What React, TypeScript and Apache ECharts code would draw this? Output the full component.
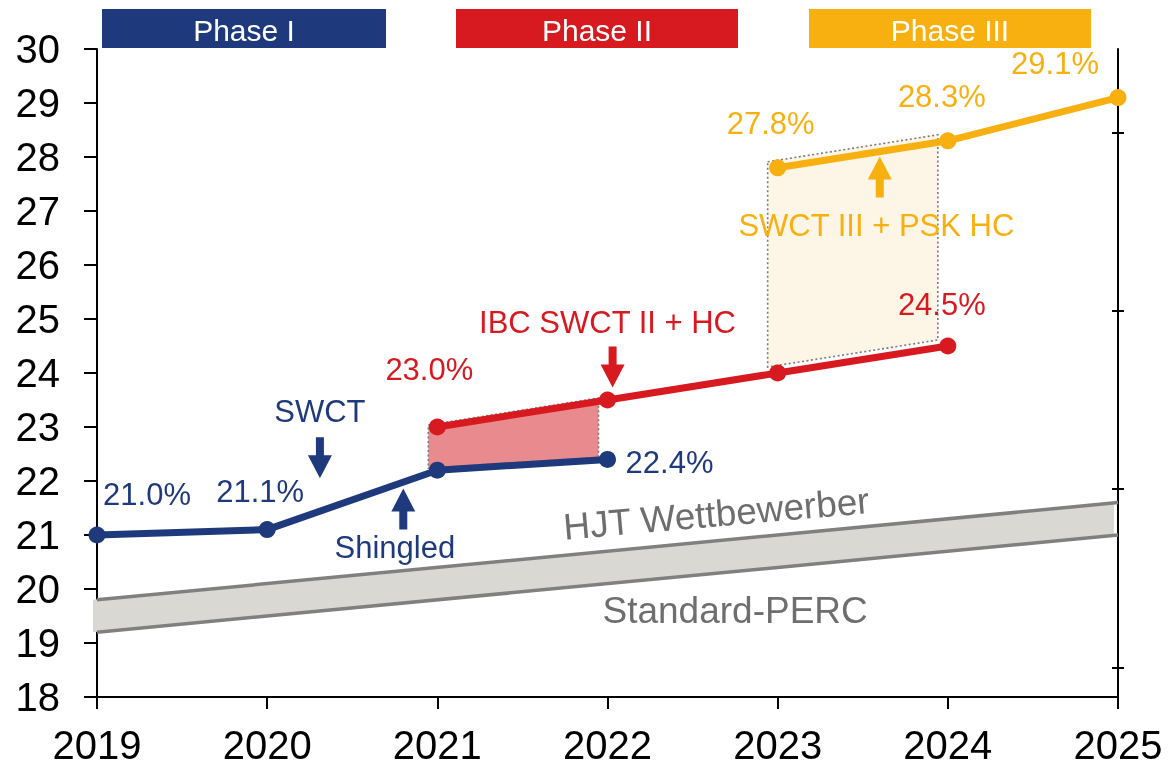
import React, { useEffect, useRef } from "react";
import * as echarts from "echarts";

// ---- data ----
const yearMin = 2019;
const yearMax = 2025;
const yMin = 18;
const yMax = 30;

const blueYears = [2019, 2020, 2021, 2022];
const blueVals = [21.0, 21.1, 22.2, 22.4];
const blueLabeled = [true, true, false, true];

const redYears = [2021, 2022, 2023, 2024];
const redVals = [23.0, 23.5, 24.0, 24.5];
const redLabeled = [true, false, false, true];

const yellowYears = [2023, 2024, 2025];
const yellowVals = [27.8, 28.3, 29.1];
const yellowLabeled = [true, true, true];

const bandYears = [2019, 2025];
const hjtVals = [19.8, 21.6];
const percVals = [19.2, 21.0];

const rightTicks = [18.55, 21.85, 25.15, 28.45];

const phaseNames = ["Phase I", "Phase II", "Phase III"];

const annTexts = ["SWCT", "Shingled", "IBC SWCT II + HC", "SWCT III + PSK HC", "HJT Wettbewerber", "Standard-PERC"];
const annX = [2020.31, 2020.75, 2022.0, 2023.58, 2022.64, 2022.75];
const annY = [23.29, 20.76, 24.94, 26.74, 21.39, 19.61];

const arrowX = [2020.31, 2020.8, 2022.03, 2023.6];
const arrowY = [22.43, 21.48, 24.11, 27.63];
const arrowDown = [true, false, true, false];

// ---- styles ----
const BLUE = "#1F3A7C";
const RED = "#D71920";
const YELLOW = "#F8B010";
const GRAY_TXT = "#6E6E6E";
const GRAY_LINE = "#808080";
const FONT = "'Liberation Sans', Arial, sans-serif";

const blueOffsets = [[50, -41], [-7, -38], [0, 0], [62, 3]];
const redOffsets = [[-8, -58], [0, 0], [0, 0], [-6, -42]];
const yellowOffsets = [[-7, -44], [-6, -44], [-63, -34]];
const hjtOffsets = [[51, -30], [-63, -31]];
const percOffsets = [[51, 40], [-63, 39]];
const annColors = [BLUE, BLUE, RED, YELLOW, GRAY_TXT, GRAY_TXT];
const annSizes = [31, 31, 31, 31, 37, 37];
const annRotate = [0, 0, 0, 0, 5, 0];
const arrowColors = [BLUE, BLUE, RED, YELLOW];
const phaseColors = [BLUE, RED, YELLOW];
const phaseBoxes = [[102, 284], [456, 282], [809, 282]];

const DOWN_ARROW = "path://M8,0 L16,0 L16,18 L24,18 L12,41 L0,18 L8,18 Z";
const UP_ARROW = "path://M12,0 L24,23 L16,23 L16,41 L8,41 L8,23 L0,23 Z";

function pointData(xs: number[], vs: number[], labeled: boolean[] | null, offsets: number[][], color: string) {
  return xs.map((x, i) => ({
    value: [x, vs[i]],
    label: {
      show: labeled ? labeled[i] : true,
      position: "inside",
      offset: offsets[i],
      formatter: () => vs[i].toFixed(1) + "%",
      color,
      fontSize: 31,
      fontFamily: FONT,
    },
  }));
}

function lineSeries(xs: number[], vs: number[], labeled: boolean[], offsets: number[][], color: string) {
  return {
    type: "line",
    z: 5,
    data: pointData(xs, vs, labeled, offsets, color),
    symbol: "circle",
    symbolSize: 17,
    showSymbol: true,
    lineStyle: { color, width: 7 },
    itemStyle: { color, opacity: 1 },
    silent: true,
  };
}

function shade(xs: number[], lows: number[], highs: number[], fill: string, dx: number, dy: number, border: boolean) {
  return {
    type: "custom",
    z: 1,
    silent: true,
    data: xs.map((x, i) => [x, lows[i], highs[i]]),
    encode: { x: 0, y: [1, 2] },
    renderItem: (params: any, api: any) => {
      if (params.dataIndex !== 0) return null;
      const top = xs.map((x, i) => api.coord([x, highs[i]]));
      const bot = xs.map((x, i) => api.coord([x, lows[i]])).reverse();
      const pts = [...top, ...bot].map((p: number[]) => [p[0] + dx, p[1] + dy]);
      return {
        type: "polygon",
        shape: { points: pts },
        style: border
          ? { fill, stroke: "#7a7a7a", lineWidth: 1.6, lineDash: [2, 2.5] }
          : { fill },
      };
    },
  };
}

function pick(xs: number[], vs: number[], wanted: number[]) {
  return wanted.map((w) => vs[xs.indexOf(w)]);
}

export default function App() {
  const ref = useRef<HTMLDivElement>(null);
  useEffect(() => {
    if (!ref.current) return;
    const chart = echarts.init(ref.current, null, { renderer: "svg" });

    const redShadeX = [2021, 2022];
    const yellowShadeX = [2023, 2024];

    const option: any = {
      animation: false,
      textStyle: { fontFamily: FONT },
      grid: { left: 97, right: 53, top: 49, bottom: 71, containLabel: false },
      xAxis: {
        type: "value",
        min: yearMin,
        max: yearMax,
        interval: 1,
        axisLine: { show: true, lineStyle: { color: "#000", width: 2 } },
        axisTick: { show: true, length: 12, lineStyle: { color: "#000", width: 2 } },
        axisLabel: { color: "#000", fontSize: 40, margin: 28, formatter: (v: number) => String(v) },
        splitLine: { show: false },
      },
      yAxis: [
        {
          type: "value",
          position: "left",
          min: yMin,
          max: yMax,
          interval: 1,
          axisLine: { show: true, lineStyle: { color: "#000", width: 2 } },
          axisTick: { show: true, length: 13, lineStyle: { color: "#000", width: 2 } },
          axisLabel: { color: "#000", fontSize: 40, margin: 37 },
          splitLine: { show: false },
        },
        {
          type: "value",
          position: "right",
          min: yMin,
          max: yMax,
          axisLine: { show: true, onZero: false, lineStyle: { color: "#000", width: 2 } },
          axisTick: { show: true, length: 6, inside: false, customValues: rightTicks, lineStyle: { color: "#000", width: 2 } },
          axisLabel: { show: false },
          splitLine: { show: false },
        },
        {
          type: "value",
          position: "right",
          min: yMin,
          max: yMax,
          axisLine: { show: false, onZero: false },
          axisTick: { show: true, length: 6, inside: true, customValues: rightTicks, lineStyle: { color: "#000", width: 2 } },
          axisLabel: { show: false },
          splitLine: { show: false },
        },
      ],
      graphic: phaseNames.flatMap((name, i) => [
        {
          type: "rect",
          shape: { x: phaseBoxes[i][0], y: 9, width: phaseBoxes[i][1], height: 39 },
          style: { fill: phaseColors[i] },
        },
        {
          type: "text",
          x: phaseBoxes[i][0] + phaseBoxes[i][1] / 2,
          y: 30,
          style: { text: name, fill: "#fff", fontSize: 30, fontFamily: FONT, align: "center", verticalAlign: "middle" },
        },
      ]),
      series: [
        shade(bandYears, percVals, hjtVals, "#D9D8D2", -4, 0, false),
        shade(redShadeX, pick(blueYears, blueVals, redShadeX), pick(redYears, redVals, redShadeX), "#E98A8F", -9, -2, true),
        shade(yellowShadeX, pick(redYears, redVals, yellowShadeX), pick(yellowYears, yellowVals, yellowShadeX), "#FDF5E5", -10, -6, true),
        {
          type: "line",
          z: 3,
          silent: true,
          data: pointData(bandYears, hjtVals, null, hjtOffsets, GRAY_TXT),
          symbol: "none",
          lineStyle: { color: GRAY_LINE, width: 3.5 },
        },
        {
          type: "line",
          z: 3,
          silent: true,
          data: pointData(bandYears, percVals, null, percOffsets, GRAY_TXT),
          symbol: "none",
          lineStyle: { color: GRAY_LINE, width: 3.5 },
        },
        lineSeries(blueYears, blueVals, blueLabeled, blueOffsets, BLUE),
        lineSeries(redYears, redVals, redLabeled, redOffsets, RED),
        lineSeries(yellowYears, yellowVals, yellowLabeled, yellowOffsets, YELLOW),
        {
          type: "scatter",
          z: 6,
          silent: true,
          itemStyle: { opacity: 1 },
          data: arrowX.map((x, i) => ({
            value: [x, arrowY[i]],
            symbol: arrowDown[i] ? DOWN_ARROW : UP_ARROW,
            itemStyle: { color: arrowColors[i], opacity: 1 },
          })),
          symbolSize: [24, 41],
        },
        {
          type: "scatter",
          z: 6,
          silent: true,
          symbolSize: 0,
          itemStyle: { opacity: 1 },
          data: annTexts.map((t, i) => ({
            value: [annX[i], annY[i]],
            itemStyle: { opacity: 1 },
            label: {
              show: true,
              position: "inside",
              formatter: t,
              color: annColors[i],
              opacity: 1,
              fontSize: annSizes[i],
              fontFamily: FONT,
              rotate: annRotate[i],
              align: "center",
              verticalAlign: "middle",
            },
          })),
        },
      ],
    };
    chart.setOption(option);
    return () => chart.dispose();
  }, []);
  return <div ref={ref} style={{ position: "fixed", left: 0, top: 0, width: 1171, height: 768 }} />;
}
